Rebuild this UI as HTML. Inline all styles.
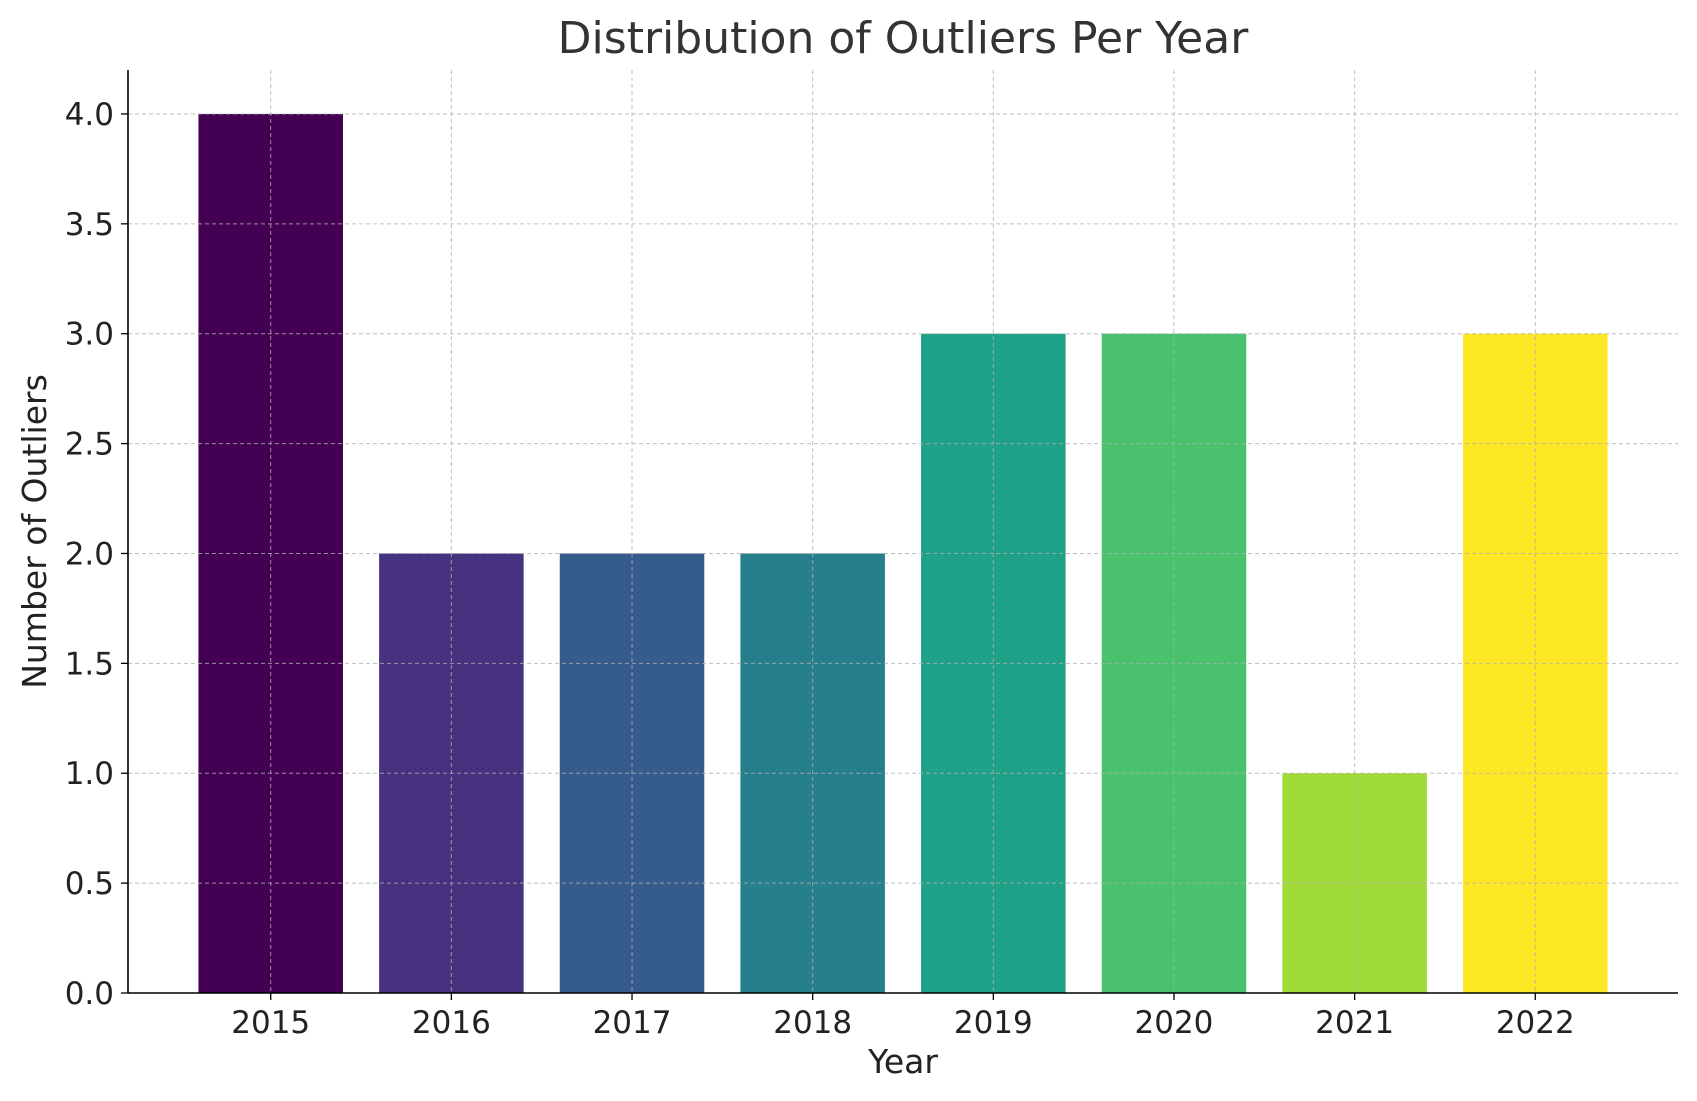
<!DOCTYPE html>
<html><head><meta charset="utf-8">
<style>
html,body{margin:0;padding:0;background:#fff;}
svg{display:block;font-family:"DejaVu Sans","Liberation Sans",sans-serif;}
</style></head>
<body>
<svg id="chart" width="1697" height="1101" viewBox="0 0 1697 1101"></svg>
<script>
const categories = ["2015","2016","2017","2018","2019","2020","2021","2022"];
const values = [4,2,2,2,3,3,1,3];
const colors = ["#440154","#46327e","#365c8d","#277f8e","#1fa187","#4ac16d","#a0da39","#fde725"];
const yTicks = [0,0.5,1,1.5,2,2.5,3,3.5,4];
const yTickLabels = ["0.0","0.5","1.0","1.5","2.0","2.5","3.0","3.5","4.0"];

const NS="http://www.w3.org/2000/svg";
const svg=document.getElementById('chart');
const L=128,R=1678,T=70,B=993;
const xMin=-0.79,xMax=7.79,yMin=0,yMax=4.2;
const xs=v=>L+(v-xMin)/(xMax-xMin)*(R-L);
const ys=v=>B-(v-yMin)/(yMax-yMin)*(B-T);
function mk(tag,attrs,parent){const e=document.createElementNS(NS,tag);for(const k in attrs)e.setAttribute(k,attrs[k]);(parent||svg).appendChild(e);return e;}

const barG=mk('g',{});


values.forEach((v,i)=>{
  const r=mk('rect',{x:xs(i-0.4),y:ys(v),width:xs(i+0.4)-xs(i-0.4),height:ys(0)-ys(v),fill:colors[i]},barG);
  
  
});
const gridG=mk('g',{stroke:'#b0b0b0','stroke-width':1,'stroke-dasharray':'4,3',opacity:0.8});


yTicks.forEach(t=>mk('line',{x1:L,x2:R,y1:ys(t),y2:ys(t)},gridG));
categories.forEach((c,i)=>mk('line',{x1:xs(i),x2:xs(i),y1:T,y2:B},gridG));
const ax=mk('g',{stroke:'#000','stroke-width':1.6});


mk('line',{x1:L,x2:L,y1:T,y2:B},ax);
mk('line',{x1:L,x2:R,y1:B,y2:B},ax);
yTicks.forEach((t,i)=>{
  mk('line',{x1:L-7,x2:L,y1:ys(t),y2:ys(t),stroke:'#000','stroke-width':1.3});
  const tx=mk('text',{x:L-14,y:ys(t)+11,'text-anchor':'end','font-size':31,fill:'#222'});
  tx.textContent=yTickLabels[i];
  
  
});
categories.forEach((c,i)=>{
  mk('line',{x1:xs(i),x2:xs(i),y1:B,y2:B+7,stroke:'#000','stroke-width':1.3});
  const tx=mk('text',{x:xs(i),y:B+40,'text-anchor':'middle','font-size':31,fill:'#222'});
  tx.textContent=c;
  
  
});
const xt=mk('text',{x:(L+R)/2,y:1073,'text-anchor':'middle','font-size':33,fill:'#222'});
xt.textContent='Year';


const yt=mk('text',{x:46,y:(T+B)/2,'text-anchor':'middle','font-size':33,fill:'#222',transform:`rotate(-90 46 ${(T+B)/2})`});
yt.textContent='Number of Outliers';


const tt=mk('text',{x:(L+R)/2,y:53,'text-anchor':'middle','font-size':44,fill:'#333'});
tt.textContent='Distribution of Outliers Per Year';


</script>
</body></html>
